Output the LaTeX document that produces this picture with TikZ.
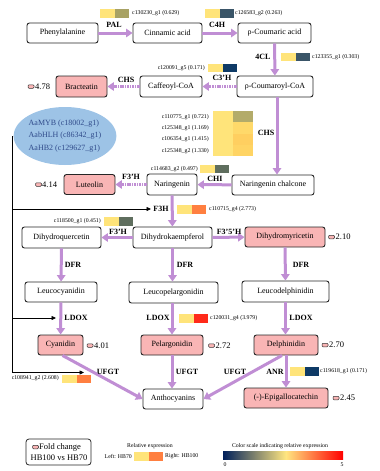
\documentclass[tikz,border=0pt]{standalone}
\usepackage{fontspec}
\setmainfont{Liberation Serif}
\usetikzlibrary{arrows.meta,shapes.geometric}
\definecolor{parrc}{RGB}{192,142,212}
\definecolor{pinkc}{HTML}{F9B5B5}
\definecolor{hmY}{HTML}{FFE47A}
\definecolor{hmOlive}{HTML}{A8A264}
\definecolor{hmSlate}{HTML}{3A5568}
\definecolor{hmNavy}{HTML}{0E3A66}
\definecolor{hmGG}{HTML}{5F6E5E}
\definecolor{hmOr}{HTML}{FF7F40}
\definecolor{hmRed}{HTML}{FF2A1A}
\definecolor{hmA}{HTML}{B3AB6A}
\definecolor{hmB}{HTML}{FFD96A}
\definecolor{hmC}{HTML}{FFCF60}
\definecolor{hmD}{HTML}{FFD464}
\definecolor{ellc}{HTML}{9DC3E6}
\definecolor{elltext}{HTML}{2F4A8A}
\definecolor{scNavy}{HTML}{00205B}
\definecolor{scYel}{HTML}{FFE680}
\definecolor{scRed}{HTML}{FF0000}
\newcommand{\hmpair}[3]{\fill[hmY] (#1,#2) rectangle ++(14.5,8.5);\fill[#3] ({#1+14.5},#2) rectangle ++(14.5,8.5);}
\tikzset{
 box/.style={draw=black!85, rounded corners=2.5pt, line width=0.9pt, minimum height=20pt, inner sep=0pt, font=\fontsize{8}{9}\selectfont, fill=white},
 pbox/.style={box, fill=pinkc},
 parr/.style={draw=parrc, line width=3pt, -{Triangle[width=8.5pt,length=6.5pt]}},
 darr/.style={parr, dash pattern=on 1.1pt off 0.6pt},
 enz/.style={font=\fontsize{8}{9}\selectfont\bfseries, inner sep=0pt},
 gl/.style={font=\fontsize{5.8}{6}\selectfont, inner sep=0pt},
 fcm/.style={draw=black!80, fill=pinkc, line width=0.5pt, rounded corners=1pt, minimum width=6pt, minimum height=3.5pt, inner sep=0pt},
 fct/.style={font=\fontsize{8.5}{9}\selectfont, inner sep=0pt, anchor=west},
 regl/.style={line width=0.7pt, black},
 rega/.style={regl, -{Triangle[width=4pt,length=4.5pt]}},
}
\begin{document}
\begin{tikzpicture}[x=1pt,y=-1pt]
\useasboundingbox (0,0) rectangle (380,471);
% boxes
\node[box, minimum width=71pt] (phe) at (62.5,33) {Phenylalanine};
\node[box, minimum width=69pt] (cin) at (167.5,33) {Cinnamic acid};
\node[box, minimum width=73pt] (pca) at (274.5,33) {ρ-Coumaric acid};
\node[box, minimum width=76pt, minimum height=21pt] (pcoa) at (275,86.5) {ρ-Coumaroyl-CoA};
\node[box, minimum width=62pt, minimum height=21pt] (caf) at (171,86.5) {Caffeoyl-CoA};
\node[pbox, minimum width=51pt, minimum height=21pt] (brac) at (81.5,86.5) {Bracteatin};
\node[box, minimum width=82pt] (chal) at (273,185) {Naringenin chalcone};
\node[box, minimum width=50pt, minimum height=21pt] (nar) at (172,184.5) {Naringenin};
\node[pbox, minimum width=51pt] (lut) at (89.5,184.5) {Luteolin};
\node[box, minimum width=79pt, minimum height=21pt] (dhk) at (172.5,237.5) {Dihydrokaempferol};
\node[box, minimum width=79pt, minimum height=21pt] (dhq) at (61.5,237.5) {Dihydroquercetin};
\node[pbox, minimum width=80pt] (dhm) at (285,237) {Dihydromyricetin};
\node[box, minimum width=72pt] (lcy) at (61,292) {Leucocyanidin};
\node[box, minimum width=89pt, minimum height=21pt] (lpe) at (173.5,292.5) {Leucopelargonidin};
\node[box, minimum width=87pt, minimum height=21pt] (lde) at (285.5,291.5) {Leucodelphinidin};
\node[pbox, minimum width=45pt] (cya) at (60.5,345) {Cyanidin};
\node[pbox, minimum width=62pt] (pel) at (172,345) {Pelargonidin};
\node[pbox, minimum width=64pt] (del) at (286,345) {Delphinidin};
\node[box, minimum width=60pt] (ant) at (173,399) {Anthocyanins};
\node[pbox, minimum width=84pt] (egc) at (286,398) {(-)-Epigallocatechin};
% ellipse
\node[ellipse, fill=ellc, minimum width=92pt, minimum height=58pt, inner sep=0pt,
  font=\fontsize{8}{12.5}\selectfont, text=elltext, align=left] (ell) at (65,136)
  {AaMYB (c18002\_g1)\\AabHLH (c86342\_g1)\\AaHB2 (c129627\_g1)};
% pathway arrows
\draw[parr] (phe) -- (cin);
\draw[parr] (cin) -- (pca);
\draw[parr] (pca) -- (pcoa);
\draw[darr] (pcoa) -- (caf);
\draw[darr] (caf) -- (brac);
\draw[parr] ([xshift=2pt]pcoa.south) -- ([xshift=2pt]pcoa.south |- chal.north);
\draw[parr] (chal) -- (nar);
\draw[darr] (nar) -- (lut);
\draw[parr] (nar) -- (dhk);
\draw[parr] (dhk) -- (dhq);
\draw[parr] (dhk) -- (dhm);
\draw[parr] (dhq) -- (lcy);
\draw[parr] (dhk.south) -- (dhk.south |- lpe.north);
\draw[parr] (dhm) -- (lde);
\draw[parr] (lcy) -- (cya);
\draw[parr] (lpe.south -| pel.north) -- (pel.north);
\draw[parr] (lde.south) -- (lde.south |- del.north);
\draw[parr] ([xshift=2pt]cya.south) -- (ant.west);
\draw[parr] (pel.south) -- (pel.south |- ant.north);
\draw[parr] ([xshift=-4pt]del.south) -- (ant.east);
\draw[parr] (del.south) -- (del.south |- egc.north);
% enzyme labels
\node[enz] (ePAL) at (114,25) {PAL};
\node[enz] (eC4H) at (217,25) {C4H};
\node[enz] (e4CL) at (263,57) {4CL};
\node[enz] (eC3H) at (222,78) {C3'H};
\node[enz] (eCHSa) at (126,80) {CHS};
\node[enz] (eCHSb) at (266,133) {CHS};
\node[enz] (eCHI) at (215,179) {CHI};
\node[enz] (eF3Ha) at (131,177) {F3'H};
\node[enz] (eF3H) at (161,209) {F3H};
\node[enz] (eF3Hb) at (118,232) {F3'H};
\node[enz] (eF35H) at (229,232) {F3'5'H};
\node[enz] (eDFRa) at (73,265) {DFR};
\node[enz] (eDFRb) at (185,265) {DFR};
\node[enz] (eDFRc) at (301,265) {DFR};
\node[enz] (eLDOXa) at (76,318) {LDOX};
\node[enz] (eLDOXb) at (158,318) {LDOX};
\node[enz] (eLDOXc) at (301,318) {LDOX};
\node[enz] (eUFa) at (108,372) {UFGT};
\node[enz] (eUFb) at (187,372) {UFGT};
\node[enz] (eUFc) at (235,372) {UFGT};
\node[enz] (eANR) at (275,372) {ANR};
% heatmaps and gene labels
\hmpair{100}{9}{hmOlive}
\node[gl, anchor=west] (gPAL) at (132,13) {c130230\_g1 (0.629)};
\hmpair{205}{9}{hmSlate}
\node[gl, anchor=west] (gC4H) at (235,13) {c126583\_g2 (0.263)};
\hmpair{281}{52.5}{hmSlate}
\node[gl, anchor=west] (g4CL) at (312,57) {c123355\_g1 (0.303)};
\hmpair{208}{63.5}{hmNavy}
\node[gl, anchor=east] (gC3H) at (205,68) {c120091\_g5 (0.171)};
\fill[hmY] (213,111) rectangle (233,156);
\fill[hmA] (233,111) rectangle (253,122.25);
\fill[hmB] (233,122.25) rectangle (253,133.5);
\fill[hmC] (233,133.5) rectangle (253,144.75);
\fill[hmD] (233,144.75) rectangle (253,156);
\node[gl, anchor=east] (gCHS1) at (209,117) {c110775\_g1 (0.721)};
\node[gl, anchor=east] (gCHS2) at (209,128) {c125348\_g1 (1.169)};
\node[gl, anchor=east] (gCHS3) at (209,139.5) {c106354\_g1 (1.415)};
\node[gl, anchor=east] (gCHS4) at (209,151) {c125348\_g2 (1.330)};
\hmpair{200}{164.5}{hmGG}
\node[gl, anchor=east] (gCHI) at (198,169) {c114683\_g2 (0.497)};
\hmpair{177}{205}{hmOr}
\node[gl, anchor=west] (gF3H) at (209,209) {c110715\_g4 (2.773)};
\hmpair{104}{217}{hmGG}
\node[gl, anchor=east] (gF3Hb) at (101,221) {c118500\_g1 (0.451)};
\hmpair{179}{314}{hmRed}
\node[gl, anchor=west] (gLDOX) at (210,318) {c120031\_g4 (3.979)};
\hmpair{290}{367}{hmNavy}
\node[gl, anchor=west] (gANR) at (320,371) {c119618\_g1 (0.171)};
\hmpair{62}{374.5}{hmOr}
\node[gl, anchor=east] (gUFGT) at (59,378.5) {c108941\_g2 (2.608)};
% fold changes
\node[fcm] (m1) at (31,86.5) {}; \node[fct] (f1) at (35,86.5) {4.78};
\node[fcm] (m2) at (38.5,184.5) {}; \node[fct] (f2) at (42,184.5) {4.14};
\node[fcm] (m3) at (331.5,237) {}; \node[fct] (f3) at (335.5,237) {2.10};
\node[fcm] (m4) at (90,345.5) {}; \node[fct] (f4) at (94,345.5) {4.01};
\node[fcm] (m5) at (211.5,345.5) {}; \node[fct] (f5) at (215.5,345.5) {2.72};
\node[fcm] (m6) at (325,345) {}; \node[fct] (f6) at (329,345) {2.70};
\node[fcm] (m7) at (336,398) {}; \node[fct] (f7) at (340,398) {2.45};
% regulation
\coordinate (rTop) at (12,136);
\coordinate (rBot) at (12,372.5);
\coordinate (rF3H) at (12,209);
\coordinate (rLD) at (12,318);
\coordinate (tF3H) at (151,209);
\coordinate (tLD) at (56,318);
\coordinate (tUF) at (84,372.5);
\draw[regl] (ell.west) -- (rTop) -- (rBot);
\draw[rega] (rF3H) -- (tF3H);
\draw[rega] (rLD) -- (tLD);
\draw[rega] (rBot) -- (tUF);
% legend
\node[draw=black!85, rounded corners=3pt, line width=0.8pt, minimum width=65pt, minimum height=26pt] (leg) at (58.5,452) {};
\node[fcm] (lm) at (35.5,447) {};
\node[font=\fontsize{8.5}{9}\selectfont, inner sep=0pt, anchor=west] (lt1) at (39,447) {Fold change};
\node[font=\fontsize{8.5}{9}\selectfont, inner sep=0pt] (lt2) at (59,458) {HB100 vs HB70};
\node[gl] (re) at (150,446) {Relative expression};
\node[gl, anchor=east] (rl) at (132,456) {Left: HB70};
\hmpair{134}{452}{hmOr}
\node[gl, anchor=west] (rr) at (165,456) {Right: HB100};
\node[gl] (cs) at (280,446) {Color scale indicating relative expression};
\shade[left color=scNavy, right color=scYel] (223,451) rectangle (286,459.5);
\shade[left color=scYel, right color=scRed] (285.8,451) rectangle (343,459.5);
\node[gl] (c0) at (225,464.5) {0};
\node[gl] (c5) at (342,464.5) {5};
\end{tikzpicture}
\end{document}
